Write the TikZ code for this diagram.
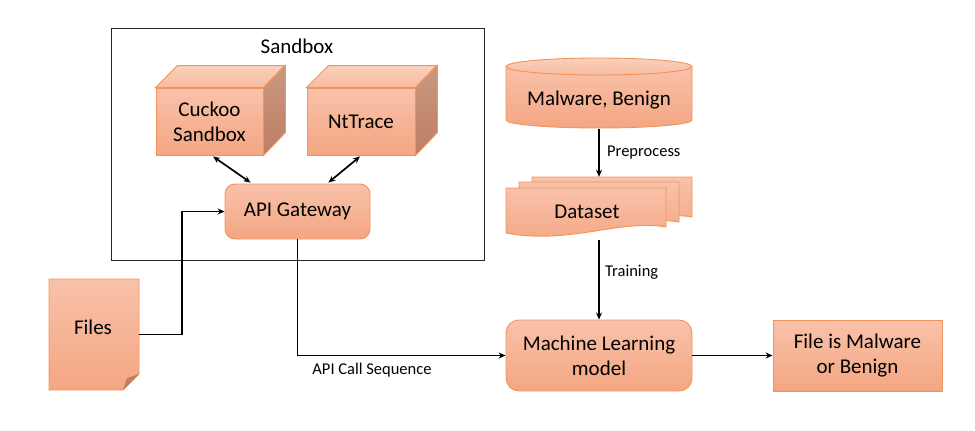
\documentclass[tikz,border=0pt]{standalone}
\usepackage{fontspec}
\setmainfont{Carlito}
\usetikzlibrary{arrows.meta,calc}
\definecolor{ftop}{RGB}{248,194,170}
\definecolor{fbot}{RGB}{244,166,130}
\definecolor{edgec}{RGB}{241,148,92}
\definecolor{sidetop}{RGB}{202,152,128}
\definecolor{sidebot}{RGB}{190,126,100}
\definecolor{toptop}{RGB}{250,208,188}
\definecolor{topbot}{RGB}{247,188,160}
\begin{document}
\begin{tikzpicture}[x=1pt,y=-1pt,
  shapefill/.style={draw=edgec, line width=0.9pt, top color=ftop, bottom color=fbot},
  box/.style={shapefill, font=\fontsize{21}{25}\selectfont, align=center, inner sep=0pt},
  region/.style={inner sep=0pt, font=\fontsize{21}{25}\selectfont, align=center},
  arr/.style={-{Stealth[length=7pt,width=6pt]}, line width=1.7pt},
  darr/.style={{Stealth[length=7pt,width=6pt]}-{Stealth[length=7pt,width=6pt]}, line width=1.7pt},
  lbl/.style={font=\fontsize{16.5}{19}\selectfont, inner sep=0pt}]
\useasboundingbox[fill=white] (0,0) rectangle (975,431);

% Sandbox frame
\node[draw=black!85, line width=1pt, minimum width=373pt, minimum height=232pt, inner sep=0pt] (sb) at (297.5,144) {};
\node[region] (sbl) at (297,46) {Sandbox};

% Cuckoo cube
\node[box, minimum width=107pt, minimum height=67pt] (cuckoo) at (209.5,121.5) {Cuckoo\\Sandbox};
\draw[draw=edgec, line width=0.9pt, top color=toptop, bottom color=topbot] (cuckoo.north west) -- ++(22,-22) -- ++(107,0) -- (cuckoo.north east) -- cycle;
\draw[draw=edgec, line width=0.9pt, top color=sidetop, bottom color=sidebot] (cuckoo.north east) -- ++(22,-22) -- ++(0,67) -- (cuckoo.south east) -- cycle;

% NtTrace cube
\node[box, minimum width=108pt, minimum height=67pt] (nt) at (361,121.5) {NtTrace};
\draw[draw=edgec, line width=0.9pt, top color=toptop, bottom color=topbot] (nt.north west) -- ++(22,-22) -- ++(108,0) -- (nt.north east) -- cycle;
\draw[draw=edgec, line width=0.9pt, top color=sidetop, bottom color=sidebot] (nt.north east) -- ++(22,-22) -- ++(0,67) -- (nt.south east) -- cycle;

% API Gateway
\node[box, rounded corners=10pt, minimum width=145pt, minimum height=55pt] (api) at (297.5,211.5) {API Gateway};

% Files document
\node[region, minimum width=90pt, minimum height=111pt] (files) at (94,334.5) {};
\draw[shapefill] (49,279) -- (139,279) -- (139,374) -- (123,390) -- (49,390) -- cycle;
\fill[sidebot] (123,390) -- (127,378) -- (139,374) -- cycle;
\node[region] (filest) at (93,327) {Files};

% Cylinder
\node[region, minimum width=186pt, minimum height=71pt] (cyl) at (599,93.5) {};
\draw[shapefill] (506,66.5) -- (506,120) arc[start angle=180, end angle=0, x radius=93, y radius=8] -- (692,66.5) -- cycle;
\draw[draw=edgec, line width=0.9pt, top color=toptop, bottom color=topbot] (599,66.5) ellipse [x radius=93, y radius=8.5];
\node[region] (cylt) at (599,100) {Malware, Benign};

% Dataset (multidocument)
\node[region, minimum width=186pt, minimum height=63pt] (ds) at (599,208.5) {};
\draw[shapefill] (532,177) -- (692,177) -- (692,217) .. controls (644,209) and (596,235) .. (532,223) -- cycle;
\draw[shapefill] (519,182) -- (679,182) -- (679,222) .. controls (631,214) and (583,240) .. (519,228) -- cycle;
\draw[shapefill] (506,188) -- (666,188) -- (666,227) .. controls (618,219) and (570,245) .. (506,233) -- cycle;
\node[region] (dst) at (587,212) {Dataset};

% Machine Learning model
\node[box, rounded corners=13pt, minimum width=186pt, minimum height=71pt] (ml) at (599,355.5) {Machine Learning\\model};

% Result
\node[box, minimum width=169pt, minimum height=71pt] (res) at (857.5,355.5) {File is Malware\\or Benign};

% Connectors
\draw[darr] ($(cuckoo.south)+(3.5,1)$) -- ($(api.north west)+(26,-1)$);
\draw[darr] ($(nt.south)+(-1,1)$) -- ($(api.north east)+(-42,-1)$);
\draw[arr] (files.east) -- ++(43,0) |- (api.west);
\draw[arr] (api.south) |- (ml.west);
\node[lbl] (acs) at (372,370) {API Call Sequence};
\draw[arr] (cyl.south) -- (ds.north);
\node[lbl, anchor=west] (pre) at (607,153) {Preprocess};
\draw[arr] (ds.south) -- (ml.north);
\node[lbl, anchor=west] (tr) at (605,272) {Training};
\draw[arr] (ml.east) -- (res.west);
\end{tikzpicture}
\end{document}
